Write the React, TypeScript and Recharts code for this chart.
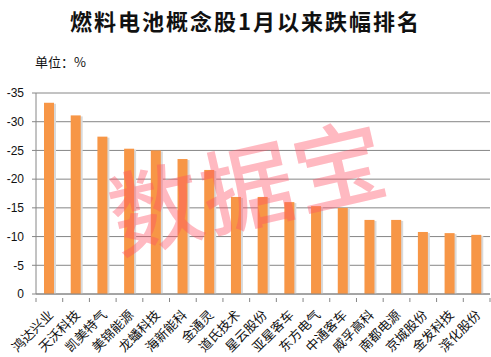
import React from "react";
import { BarChart, Bar, XAxis, YAxis, CartesianGrid } from "recharts";

const categories = [
  "鸿达兴业",
  "天沃科技",
  "凯美特气",
  "美锦能源",
  "龙蟠科技",
  "海新能科",
  "金通灵",
  "道氏技术",
  "星云股份",
  "亚星客车",
  "东方电气",
  "中通客车",
  "威孚高科",
  "南都电源",
  "京城股份",
  "金发科技",
  "滨化股份",
];

const declines = [
  -33.3, -31.1, -27.4, -25.3, -25.0, -23.5, -21.6, -16.9, -16.9, -16.0, -15.3,
  -15.0, -12.9, -12.9, -10.8, -10.6, -10.3,
];

const yTicks = [0, -5, -10, -15, -20, -25, -30, -35];

const data = categories.map((name, i) => ({ name, value: declines[i] }));

const W = 491;
const H = 357;
const LEFT = 36;
const RIGHT = 1;
const TOP = 93;
const X_AXIS_H = 63;
const band = (W - LEFT - RIGHT) / categories.length;

const AXIS = "#868686";
const cjk = '"Noto Sans CJK SC", sans-serif';

function CategoryTick(props: any) {
  const { x, y, payload, index } = props;
  const left = x - band / 2;
  return (
    <g>
      <line x1={left} y1={y - 4} x2={left} y2={y} stroke={AXIS} />
      {index === categories.length - 1 && (
        <line x1={x + band / 2} y1={y - 4} x2={x + band / 2} y2={y} stroke={AXIS} />
      )}
      <text
        x={x + 1}
        y={y + 10}
        textAnchor="end"
        dominantBaseline="central"
        transform={`rotate(-45 ${x + 1} ${y + 10})`}
        fontSize={13}
        fontFamily={cjk}
        fill="#111"
      >
        {payload.value}
      </text>
    </g>
  );
}

function ShadowBar(props: any) {
  const { x, y, width, height } = props;
  if (height == null) return null;
  const top = Math.min(y, y + height);
  const h = Math.abs(height);
  return (
    <g>
      <rect x={x + 2} y={top + 1} width={width} height={h - 1} fill="#d9d9d9" />
      <rect x={x} y={top} width={width} height={h} fill="#F79646" />
    </g>
  );
}

export default function App() {
  return (
    <div style={{ position: "relative", width: W, height: H, background: "#fff" }}>
      <style>{`body{margin:0}`}</style>
      <BarChart
        width={W}
        height={H}
        data={data}
        margin={{ top: TOP, right: RIGHT, left: 0, bottom: 0 }}
      >
        <CartesianGrid vertical={false} stroke={AXIS} />
        <XAxis
          dataKey="name"
          height={X_AXIS_H}
          interval={0}
          tickLine={false}
          axisLine={{ stroke: AXIS }}
          tick={<CategoryTick />}
        />
        <YAxis
          type="number"
          width={LEFT}
          domain={[-35, 0]}
          ticks={yTicks}
          interval={0}
          reversed
          tickSize={4}
          tickMargin={8}
          axisLine={{ stroke: AXIS }}
          tickLine={{ stroke: AXIS }}
          tick={{ fontSize: 12, fill: "#111", fontFamily: "Arial, 'Liberation Sans', sans-serif" }}
        />
        <Bar dataKey="value" barSize={10} shape={<ShadowBar />} isAnimationActive={false} />
      </BarChart>
      <div
        style={{
          position: "absolute",
          left: 0,
          top: 6,
          width: W,
          textAlign: "center",
          fontFamily: cjk,
          fontWeight: 700,
          fontSize: 22,
          letterSpacing: 2,
          lineHeight: "28px",
          color: "#111",
        }}
      >
        燃料电池概念股1月以来跌幅排名
      </div>
      <div
        style={{
          position: "absolute",
          left: 35,
          top: 53,
          fontFamily: cjk,
          fontSize: 13,
          lineHeight: "18px",
          color: "#111",
        }}
      >
        单位：%
      </div>
      <div
        style={{
          position: "absolute",
          left: 247 - 160,
          top: 182 - 47,
          width: 320,
          textAlign: "center",
          fontFamily: cjk,
          fontWeight: 500,
          fontSize: 92,
          lineHeight: "94px",
          letterSpacing: 2,
          color: "rgba(255, 80, 100, 0.4)",
          transform: "rotate(-13deg)",
          pointerEvents: "none",
        }}
      >
        数据宝
      </div>
    </div>
  );
}
